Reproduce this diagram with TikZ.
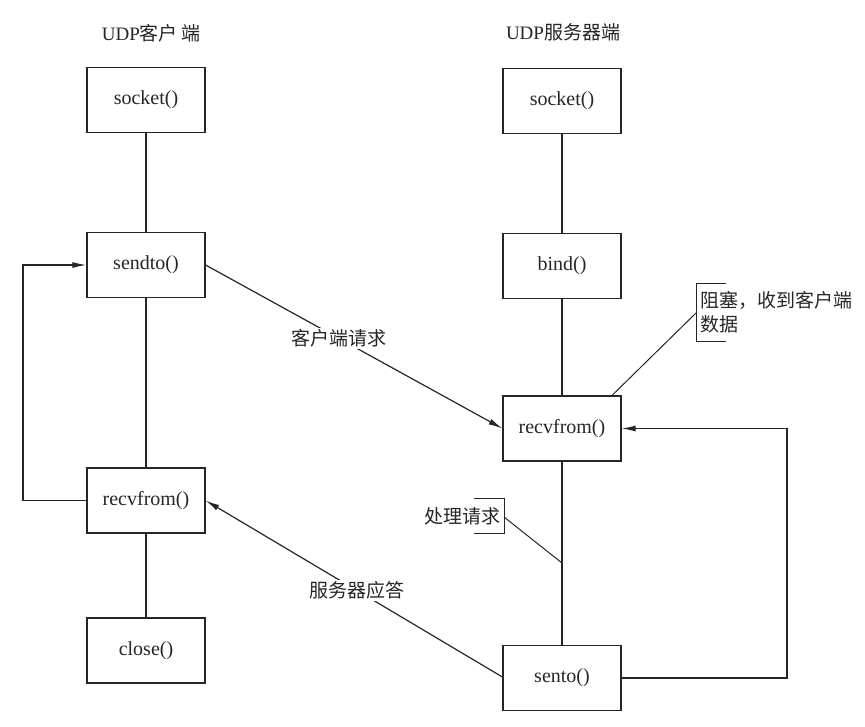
\documentclass[tikz,border=0pt]{standalone}
\usepackage{fontspec}
\setmainfont{Liberation Serif}
\newfontfamily\cjk{Noto Sans CJK SC}
\usetikzlibrary{arrows.meta,calc}
\definecolor{ink}{gray}{0.15}
\begin{document}
\begin{tikzpicture}[x=1pt,y=-1pt,
  every node/.style={text=ink},
  box/.style={draw=ink, line width=1.2pt, minimum width=118pt, minimum height=65pt, inner sep=0pt, font=\fontsize{20}{24}\selectfont},
  lbl/.style={font=\fontsize{19}{24}\selectfont\cjk, inner sep=1.5pt},
  ln/.style={draw=ink, line width=1.2pt},
  arr/.style={ln, -{Latex[length=14pt,width=6pt]}}]
\useasboundingbox (0,0) rectangle (865,726);
% titles
\node[font=\fontsize{19}{24}\selectfont] (tl) at (151,33) {UDP{\cjk 客户\,端}};
\node[font=\fontsize{19}{24}\selectfont] (tr) at (563,32) {UDP{\cjk 服务器端}};
% client boxes
\node[box] (lsock)  at (146,100)   {socket()};
\node[box] (lsend)  at (146,265)   {sendto()};
\node[box] (lrecv)  at (146,500.5) {recvfrom()};
\node[box] (lclose) at (146,650.5) {close()};
% server boxes
\node[box] (rsock)  at (562,101)   {socket()};
\node[box] (rbind)  at (562,266)   {bind()};
\node[box] (rrecv)  at (562,428.5) {recvfrom()};
\node[box] (rsento) at (562,678)   {sento()};
% vertical connectors
\draw[ln] (lsock) -- (lsend);
\draw[ln] (lsend) -- (lrecv);
\draw[ln] (lrecv) -- (lclose);
\draw[ln] (rsock) -- (rbind);
\draw[ln] (rbind) -- (rrecv);
\draw[ln] (rrecv) -- (rsento);
% loops
\draw[arr] (lrecv.west) -- (23,500.5) |- (lsend.west);
\draw[arr] (rsento.east) -- (787,678) |- (rrecv.west -| rrecv.east);
% messages
\draw[arr] (lsend.east) -- node[lbl, pos=0.45, fill=white] (req) {客户端请求} (rrecv.west);
\draw[arr] (rsento.west |- 0,677) -- node[lbl, pos=0.49, fill=white] (resp) {服务器应答} (lrecv.east);
% annotation: blocking
\node[lbl, anchor=west, align=left] (ann1) at (699,312) {阻塞，收到客户端\\数据};
\coordinate (b1) at (696,313);
\coordinate (r1) at ($(rrecv.north west)!0.92!(rrecv.north east)$);
\draw[ln, line width=1pt] (726,283) -- (696,283) -- (696,341) -- (726,341);
\draw[ln, line width=1pt] (b1) -- (r1);
% annotation: processing
\node[lbl, anchor=east] (ann2) at (502,516) {处理请求};
\coordinate (b2) at (504,517);
\coordinate (p2) at (562,563);
\draw[ln, line width=1pt] (474,498) -- (504,498) -- (504,533) -- (474,533);
\draw[ln, line width=1pt] (b2) -- (p2);
\end{tikzpicture}
\end{document}
